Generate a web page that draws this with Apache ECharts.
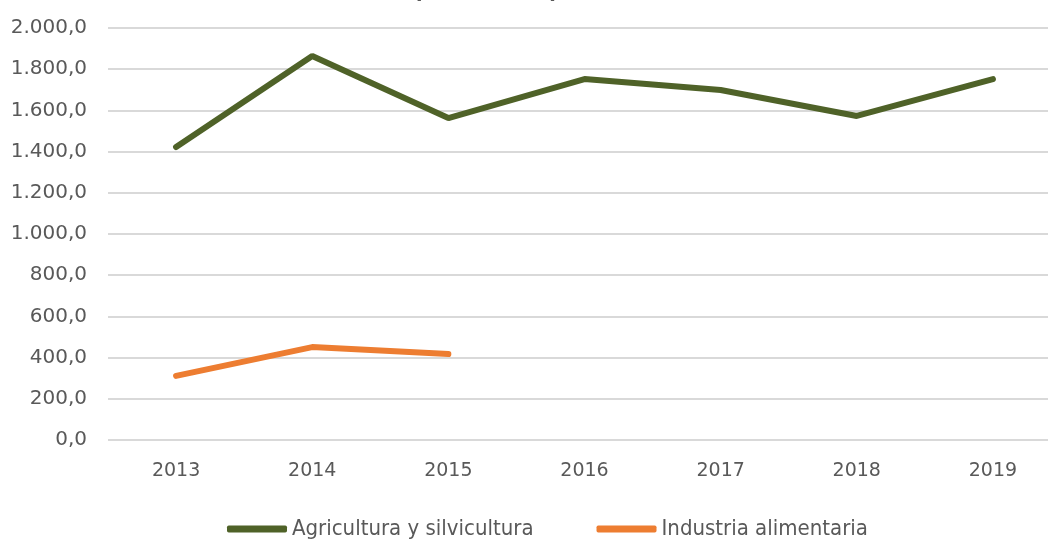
<!DOCTYPE html>
<html>
<head>
<meta charset="utf-8">
<script src="https://cdn.jsdelivr.net/npm/echarts@6/dist/echarts.min.js"></script>
<style>
  html, body { margin: 0; padding: 0; background: #fff; }
  #main { width: 1048px; height: 541px; }
</style>
</head>
<body>
<div id="main"></div>
<script>
// data
const years = ["2013", "2014", "2015", "2016", "2017", "2018", "2019"];
const agricultura = [1422, 1864, 1563, 1752, 1699, 1573, 1752];
const industria = [311, 451, 417, null, null, null, null];
const yTicks = [0, 200, 400, 600, 800, 1000, 1200, 1400, 1600, 1800, 2000];

let myChart = echarts.init(document.getElementById("main"));

// 1.800,0 style labels
function fmt(v) {
  let s = Math.round(v).toString().replace(/\B(?=(\d{3})+(?!\d))/g, ".");
  return s + ",0";
}

let options = {
  animation: false,
  textStyle: { fontFamily: "DejaVu Sans" },
  title: {
    text: "Importaciones por sector",
    left: "center",
    top: -22,
    textStyle: { fontSize: 19, fontWeight: "bold", color: "#595959" },
  },
  grid: { left: 108, width: 953, top: 28, bottom: 101, outerBoundsMode: "none" },
  legend: {
    top: 513,
    left: 222,
    icon: "roundRect",
    itemWidth: 60,
    itemHeight: 7,
    itemGap: 63,
    textStyle: { fontSize: 22, color: "#595959", fontFamily: "DejaVu Sans Condensed" },
    data: ["Agricultura y silvicultura", "Industria alimentaria"],
  },
  xAxis: {
    type: "category",
    data: years,
    boundaryGap: true,
    axisLine: { show: false },
    axisTick: { show: false },
    axisLabel: { fontSize: 19, color: "#595959", margin: 22 },
  },
  yAxis: {
    type: "value",
    min: yTicks[0],
    max: yTicks[yTicks.length - 1],
    interval: 200,
    axisLabel: { fontSize: 20, color: "#595959", margin: 21, formatter: fmt },
    splitLine: { lineStyle: { color: "#d9d9d9", width: 2 } },
  },
  series: [
    {
      name: "Agricultura y silvicultura",
      type: "line",
      data: agricultura,
      symbol: "none",
      lineStyle: { width: 6, color: "#4f6228", cap: "round" },
      itemStyle: { color: "#4f6228" },
    },
    {
      name: "Industria alimentaria",
      type: "line",
      data: industria,
      symbol: "none",
      lineStyle: { width: 6, color: "#ed7d31", cap: "round" },
      itemStyle: { color: "#ed7d31" },
    },
  ],
};

myChart.setOption(options);
</script>
</body>
</html>
